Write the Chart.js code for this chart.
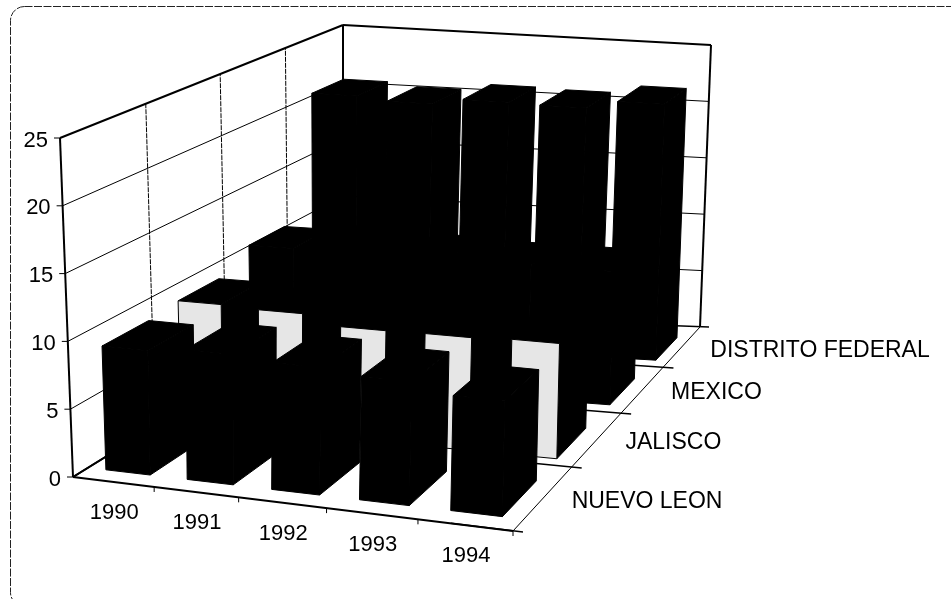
<!DOCTYPE html>
<html>
<head>
<meta charset="utf-8">
<title>Barras 3D</title>
<script src="https://cdn.jsdelivr.net/npm/chart.js@4/dist/chart.umd.min.js"></script>
<style>
  html, body { margin: 0; padding: 0; background: #fff; overflow: hidden; }
  canvas { display: block; }
</style>
</head>
<body>
<canvas id="grafica" width="951" height="599"></canvas>
<script>
const years = ["1990", "1991", "1992", "1993", "1994"];
const states = ["NUEVO LEON", "JALISCO", "MEXICO", "DISTRITO FEDERAL"];
const nuevoLeon = [9.2, 9.6, 9.3, 9.0, 8.3];
const jalisco = [9.5, 9.35, 8.6, 8.65, 8.8];
const mexico = [10.8, 10.9, 11, 10.8, 10.8];
const distritoFederal = [20.95, 20.65, 21.2, 21.1, 21.8];

// corners of the box on screen: front-left, front-right, back-right, back-left
const floorCorners = [[73, 477], [513, 531], [700, 327], [343, 310]];
const roofCorners = [[60, 138], [520, 178], [711, 45], [343, 25]];
const barDepth = 0.56;
const barWidths = [0.55, 0.54, 0.58, 0.6];
const rowShifts = [-0.012, -0.028, -0.02, -0.02];
const columnShifts = [0, 0, 0, 0.007];
const flatten = 0.07;
const labelFont = '22px "Liberation Sans", Arial, sans-serif';
const stateFont = '23px "Liberation Sans", Arial, sans-serif';

// unit square -> quad
function makeHomography(q) {
    const [[x0, y0], [x1, y1], [x2, y2], [x3, y3]] = q;
    const dx1 = x1 - x2, dx2 = x3 - x2, sx = x0 - x1 + x2 - x3;
    const dy1 = y1 - y2, dy2 = y3 - y2, sy = y0 - y1 + y2 - y3;
    const det = dx1 * dy2 - dx2 * dy1;
    const g = (sx * dy2 - dx2 * sy) / det;
    const h = (dx1 * sy - sx * dy1) / det;
    return (u, v) => {
        const w = g * u + h * v + 1;
        return [
            ((x1 - x0 + g * x1) * u + (x3 - x0 + h * x3) * v + x0) / w,
            ((y1 - y0 + g * y1) * u + (y3 - y0 + h * y3) * v + y0) / w
        ];
    };
}

const floorMap = makeHomography(floorCorners);
const roofMap = makeHomography(roofCorners);

function project(u, v, t) {
    // evens out the year spacing a little, the plain homography bunches it to the left
    const w = u + flatten * u * (1 - u);
    const a = floorMap(w, v), b = roofMap(w, v);
    return [a[0] + (b[0] - a[0]) * t, a[1] + (b[1] - a[1]) * t];
}

function line(ctx, a, b, width) {
    ctx.lineWidth = width;
    ctx.beginPath();
    ctx.moveTo(a[0], a[1]);
    ctx.lineTo(b[0], b[1]);
    ctx.stroke();
}

function face(ctx, pts, color) {
    ctx.fillStyle = color;
    ctx.beginPath();
    pts.forEach((p, i) => i ? ctx.lineTo(p[0], p[1]) : ctx.moveTo(p[0], p[1]));
    ctx.closePath();
    ctx.fill();
    ctx.strokeStyle = "#000";
    ctx.lineWidth = 1;
    ctx.stroke();
}

const box3d = {
    id: "box3d",
    beforeDatasetsDraw(chart) {
        const ctx = chart.ctx;
        const area = chart.chartArea;
        const yScale = chart.scales.y;
        const zScale = chart.scales.z;
        const toU = px => (px - area.left) / area.width;
        const toV = px => (px - zScale.left) / zScale.width;
        const toT = px => (area.bottom - px) / area.height;
        const bandU = 1 / years.length;
        const bandV = 1 / states.length;

        ctx.save();

        // frame
        ctx.strokeStyle = "#222";
        ctx.lineWidth = 1;
        ctx.setLineDash([8, 1.5]);
        ctx.beginPath();
        ctx.roundRect(10.5, 6.5, 960, 600, 14);
        ctx.stroke();
        ctx.setLineDash([]);

        ctx.strokeStyle = "#000";
        ctx.fillStyle = "#000";

        // horizontal grid on both walls, value ticks and labels
        ctx.font = labelFont;
        ctx.textAlign = "right";
        ctx.textBaseline = "middle";
        yScale.ticks.forEach(tick => {
            const t = toT(yScale.getPixelForValue(tick.value));
            const front = project(0, 0, t), back = project(0, 1, t), right = project(1, 1, t);
            const heavy = t === 0 || t === 1;
            line(ctx, front, back, heavy ? 2 : 1);
            if (t > 0) line(ctx, back, right, heavy ? 2 : 1);
            line(ctx, [front[0] - 6, front[1]], front, 1);
            ctx.fillText(tick.label, front[0] - 12, front[1] + 2.5);
        });

        // wall verticals and row lines across the floor
        states.forEach((name, i) => {
            const v = i * bandV;
            if (i > 0) {
                ctx.setLineDash([5, 1]);
                line(ctx, project(0, v, 0), project(0, v, 1), 1);
                ctx.setLineDash([]);
            }
            const end = project(1, v, 0);
            line(ctx, project(0.87, v, 0), [end[0] + 10, end[1] + 1], 1.5);
        });
        line(ctx, project(0, 0, 0), project(0, 0, 1), 2);
        line(ctx, project(0, 1, 0), project(0, 1, 1), 2);
        line(ctx, project(1, 1, 0), project(1, 1, 1), 2);
        const corner = project(1, 1, 0);
        line(ctx, project(0.9, 1, 0), [corner[0] + 9, corner[1]], 1.5);

        // floor edges
        line(ctx, project(0, 0, 0), project(1, 0, 0), 2);
        line(ctx, project(1, 0, 0), project(1, 1, 0), 1);
        line(ctx, project(0, 0, 0), project(0, 1, 0), 2);

        // year ticks and labels under the front edge
        ctx.textAlign = "center";
        years.forEach((year, i) => {
            const a = project((i + 1) * bandU, 0, 0);
            line(ctx, a, [a[0], a[1] + 5], 1);
            const c = project((i + 0.5) * bandU, 0, 0);
            ctx.fillText(year, c[0] + 1, c[1] + 31);
        });

        // state labels beside the right edge
        ctx.font = stateFont;
        ctx.textAlign = "left";
        states.forEach((name, i) => {
            const c = project(1, (i + 0.5) * bandV, 0);
            ctx.fillText(name, c[0] + 28, c[1] + 4);
        });

        // bars, back row first and left to right inside a row
        for (let d = chart.data.datasets.length - 1; d >= 0; d--) {
            const meta = chart.getDatasetMeta(d);
            const centerV = toV(zScale.getPixelForValue(d)) + rowShifts[d];
            const halfV = bandV * barDepth / 2;
            meta.data.forEach(el => {
                const u0 = toU(el.x - el.width / 2) + columnShifts[d];
                const u1 = toU(el.x + el.width / 2) + columnShifts[d];
                const v0 = centerV - halfV, v1 = centerV + halfV;
                const t = toT(el.y), b = toT(el.base);
                face(ctx, [project(u1, v0, b), project(u1, v1, b), project(u1, v1, t), project(u1, v0, t)], "#000");
                face(ctx, [project(u0, v0, t), project(u1, v0, t), project(u1, v1, t), project(u0, v1, t)], "#000");
                face(ctx, [project(u0, v0, b), project(u1, v0, b), project(u1, v0, t), project(u0, v0, t)], el.options.backgroundColor);
            });
        }

        ctx.restore();
        return false;
    }
};

const seriesValues = [nuevoLeon, jalisco, mexico, distritoFederal];
const faceColors = ["#000", "#e6e6e6", "#000", "#000"];

new Chart(document.getElementById("grafica"), {
    type: "bar",
    data: {
        labels: years,
        datasets: states.map((name, i) => ({
            label: name,
            data: seriesValues[i],
            backgroundColor: faceColors[i],
            grouped: false,
            categoryPercentage: 1,
            barPercentage: barWidths[i]
        }))
    },
    options: {
        responsive: false,
        animation: false,
        events: [],
        plugins: { legend: { display: false }, tooltip: { enabled: false } },
        scales: {
            x: { display: false },
            y: { display: false, min: 0, max: 25, ticks: { stepSize: 5 } },
            z: { type: "category", axis: "x", display: false, labels: states, offset: true }
        }
    },
    plugins: [box3d]
});
</script>
</body>
</html>
